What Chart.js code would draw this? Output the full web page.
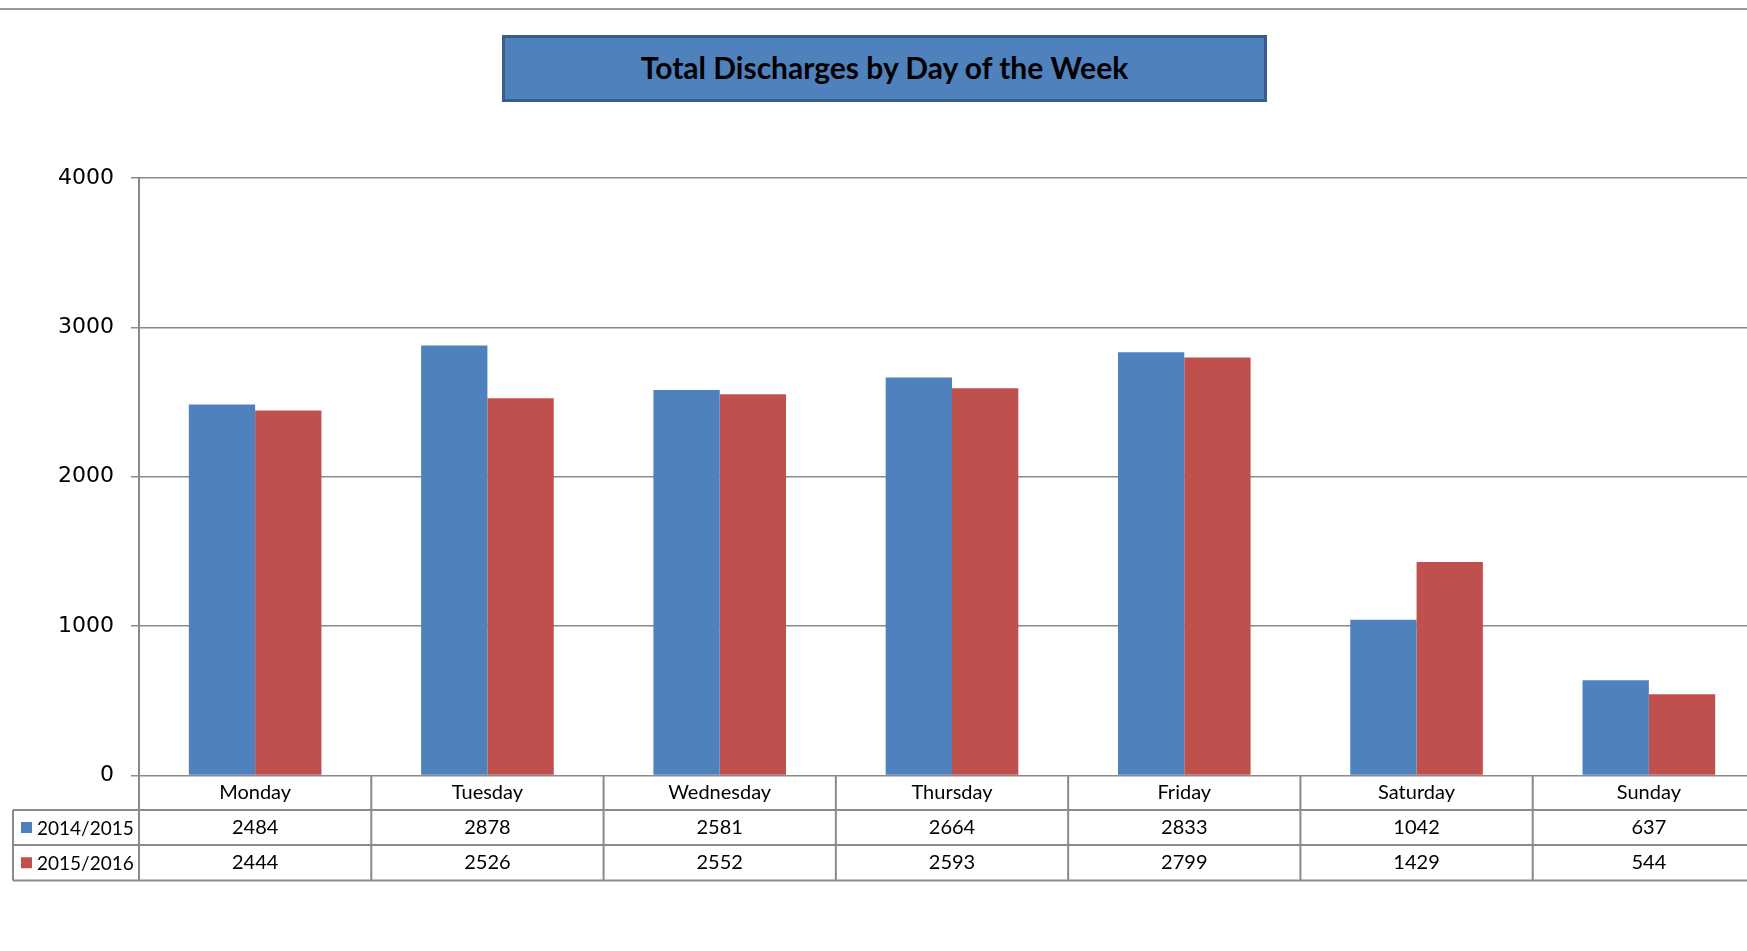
<!DOCTYPE html>
<html lang="en">
<head>
  <meta charset="UTF-8">
  <title>Total Discharges by Day of the Week</title>
  <script src="https://cdn.jsdelivr.net/npm/chart.js"></script>
  <style>
    html, body { margin: 0; padding: 0; background: #fff; overflow: hidden; }
    #wrap { position: relative; width: 1747px; height: 951px; overflow: hidden; }
    #topline { position: absolute; left: 0; top: 8px; width: 1747px; height: 2px; background: #9a9a9a; }
    #title {
      position: absolute; left: 502px; top: 35px; width: 759px; height: 61px;
      background: #4f81bd; border: 3px solid #385d8a;
      font-family: Lato, "Open Sans", sans-serif; font-weight: bold; font-size: 30px;
      color: #000; text-align: center; line-height: 58px;
    }
    #myChart { position: absolute; left: 0; top: 0; }
  </style>
</head>
<body>
<div id="wrap">
  <canvas id="myChart" width="1770" height="951"></canvas>
  <div id="topline"></div>
  <div id="title">Total Discharges by Day of the Week</div>
</div>

<script>
  // categories and series
  const days = ['Monday', 'Tuesday', 'Wednesday', 'Thursday', 'Friday', 'Saturday', 'Sunday'];
  const seriesNames = ['2014/2015', '2015/2016'];
  const fy1415 = [2484, 2878, 2581, 2664, 2833, 1042, 637];
  const fy1516 = [2444, 2526, 2552, 2593, 2799, 1429, 544];
  const yTicks = [0, 1000, 2000, 3000, 4000];

  const blue = '#4f81bd';
  const red = '#c0504d';
  const lineCol = '#8a8a8a';
  const tableFont = '20px Lato, "Open Sans", sans-serif';
  const keyFont = '19px Lato, "Open Sans", sans-serif';

  // data table under the x axis (like Excel's chart data table)
  const dataTable = {
    id: 'dataTable',
    afterDraw(chart) {
      const c = chart.ctx;
      const area = chart.chartArea;
      const x = chart.scales.x;
      const n = days.length;
      const catW = (area.right - area.left) / n;
      const rowH = 34.5;
      const y0 = area.bottom;
      const y1 = y0 + rowH, y2 = y1 + rowH + 0.5, y3 = y2 + 35.5;
      const tableLeft = 13;

      c.save();
      c.strokeStyle = lineCol;
      c.lineWidth = 2;
      c.beginPath();
      // horizontal lines
      [y1, y2, y3].forEach(y => { c.moveTo(tableLeft, y); c.lineTo(area.right + 50, y); });
      // left border of legend cells
      c.moveTo(tableLeft, y1); c.lineTo(tableLeft, y3);
      // column separators
      for (let i = 0; i <= n; i++) {
        const xx = area.left + i * catW;
        c.moveTo(xx, y0); c.lineTo(xx, y3);
      }
      c.stroke();

      // values
      c.fillStyle = '#000';
      c.font = tableFont;
      c.textAlign = 'center';
      c.textBaseline = 'middle';
      const rows = [fy1415, fy1516];
      const rowMid = [(y1 + y2) / 2, (y2 + y3) / 2];
      rows.forEach((vals, r) => {
        vals.forEach((v, i) => c.fillText(String(v), x.getPixelForValue(i), rowMid[r]));
      });

      // legend keys
      const cols = [blue, red];
      c.textAlign = 'left';
      c.font = keyFont;
      seriesNames.forEach((name, r) => {
        c.fillStyle = cols[r];
        c.fillRect(21, rowMid[r] - 5.5, 11, 11);
        c.fillStyle = '#000';
        c.fillText(name, 37, rowMid[r] + 1);
      });
      c.restore();
    }
  };

  new Chart(document.getElementById('myChart'), {
    type: 'bar',
    data: {
      labels: days,
      datasets: [
        { label: seriesNames[0], data: fy1415, backgroundColor: blue, borderWidth: 0 },
        { label: seriesNames[1], data: fy1516, backgroundColor: red, borderWidth: 0 }
      ]
    },
    options: {
      responsive: false,
      animation: false,
      datasets: { bar: { barPercentage: 1, categoryPercentage: 0.571 } },
      layout: { padding: { top: 178, right: 5, bottom: 0, left: 0 } },
      plugins: {
        legend: { display: false },
        tooltip: { enabled: false }
      },
      scales: {
        x: {
          grid: { display: false, drawTicks: false },
          border: { display: false },
          ticks: {
            color: '#000',
            font: { family: 'Lato, "Open Sans", sans-serif', size: 20 },
            padding: 5,
            maxRotation: 0
          },
          afterFit(scale) { scale.height = 175.5; }
        },
        y: {
          min: 0,
          max: 4000,
          afterBuildTicks(scale) { scale.ticks = yTicks.map(v => ({ value: v })); },
          grid: { color: lineCol, lineWidth: 1.5, tickLength: 8 },
          border: { color: lineCol, width: 2 },
          ticks: {
            color: '#000',
            font: { family: '"DejaVu Sans", Verdana, sans-serif', size: 22 },
            padding: 17,
            callback: v => String(v)
          },
          afterFit(scale) { scale.width = 139; }
        }
      }
    },
    plugins: [dataTable]
  });
</script>
</body>
</html>
